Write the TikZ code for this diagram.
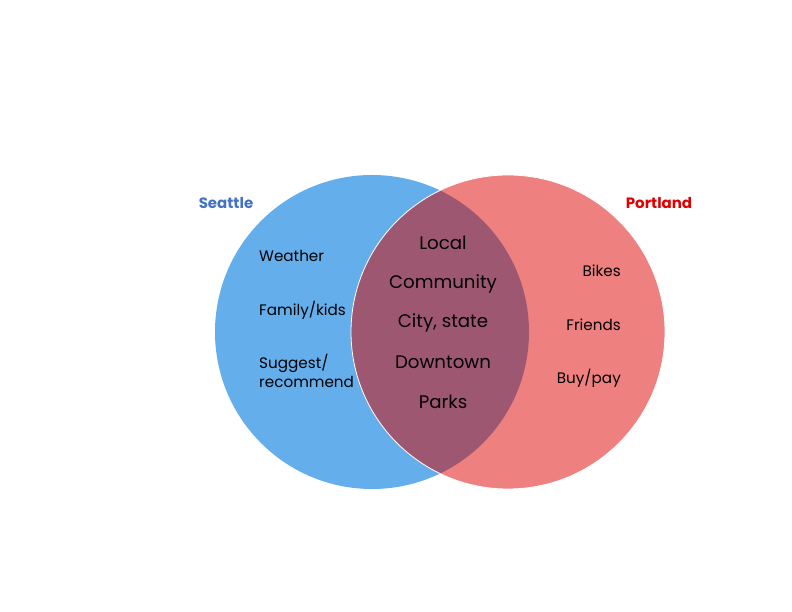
\documentclass[tikz,border=0pt]{standalone}
\usepackage{fontspec}
\setmainfont{Poppins}
\usepackage{xcolor}
\usetikzlibrary{positioning}

\definecolor{seattleblue}{HTML}{63AEEB}
\definecolor{portlandpink}{HTML}{EE8080}
\definecolor{overlapplum}{HTML}{9E5771}
\definecolor{seattletitle}{HTML}{4472C4}
\definecolor{portlandtitle}{HTML}{E00000}

\begin{document}
\begin{tikzpicture}[
    x=1pt, y=1pt,
    setcircle/.style={circle, inner sep=0pt, minimum size=314pt},
    title/.style={font=\bfseries\fontsize{15}{17}\selectfont},
    sideword/.style={font=\fontsize{15.2}{19.5}\selectfont, inner sep=0pt},
    midword/.style={font=\fontsize{18.2}{21}\selectfont, inner sep=0pt}
  ]
    \useasboundingbox (0,0) rectangle (792,612);

    % the two sets and their overlap
    \node[setcircle, fill=seattleblue] (seattle) at (372,280) {};
    \node[setcircle, fill=portlandpink] (portland) at (508,280) {};
    \begin{scope}
      \clip (372,280) circle (157);
      \fill[overlapplum] (508,280) circle (157);
    \end{scope}
    \draw[white, line width=0.8pt] (508,280) circle (157);

    % titles
    \node[title, text=seattletitle] (seattlename) at (226,409) {Seattle};
    \node[title, text=portlandtitle] (portlandname) at (659,409) {Portland};

    % Seattle only
    \node[sideword, anchor=west] (weather) at (259,356) {Weather};
    \node[sideword, anchor=west] (family) at (259,302) {Family/kids};
    \node[sideword, anchor=west, align=left] (suggest) at (259,241) {Suggest/\\recommend};

    % Portland only
    \node[sideword, anchor=east] (bikes) at (621,341) {Bikes};
    \node[sideword, anchor=east] (friends) at (621,287) {Friends};
    \node[sideword, anchor=east] (buypay) at (621,234) {Buy/pay};

    % both
    \node[midword] (local) at (443,369) {Local};
    \node[midword] (community) at (443,328) {Community};
    \node[midword] (citystate) at (443,289) {City, state};
    \node[midword] (downtown) at (443,250) {Downtown};
    \node[midword] (parks) at (443,210) {Parks};
  \end{tikzpicture}
\end{document}
